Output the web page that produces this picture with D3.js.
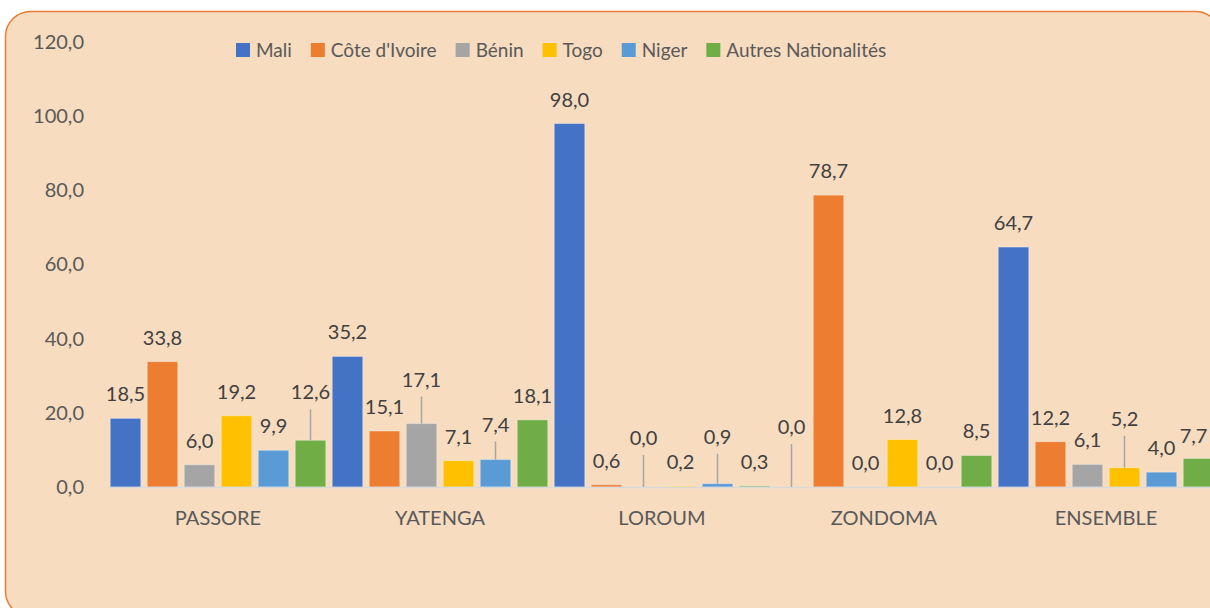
<!DOCTYPE html>
<html>
<head>
<meta charset="utf-8">
<script src="https://cdn.jsdelivr.net/npm/d3@7"></script>
<style>
  html, body { margin: 0; padding: 0; background: #fff; }
  svg { display: block; font-family: Lato, "DejaVu Sans", sans-serif; }
</style>
</head>
<body>
<svg id="chart" width="1210" height="608"></svg>
<script>
// data
var categories = ['PASSORE', 'YATENGA', 'LOROUM', 'ZONDOMA', 'ENSEMBLE'];
var seriesNames = ['Mali', "Côte d'Ivoire", 'Bénin', 'Togo', 'Niger', 'Autres Nationalités'];
var mali       = [18.5, 35.2, 98.0,  0.0, 64.7];
var coteIvoire = [33.8, 15.1,  0.6, 78.7, 12.2];
var benin      = [ 6.0, 17.1,  0.0,  0.0,  6.1];
var togo       = [19.2,  7.1,  0.2, 12.8,  5.2];
var niger      = [ 9.9,  7.4,  0.9,  0.0,  4.0];
var autres     = [12.6, 18.1,  0.3,  8.5,  7.7];
var yTicks = [0, 20, 40, 60, 80, 100, 120];

var seriesValues = [mali, coteIvoire, benin, togo, niger, autres];
var seriesColors = ['#4472c4', '#ed7d31', '#a5a5a5', '#ffc000', '#5b9bd5', '#70ad47'];

// labels that excel moved off their default spot (with a leader line)
var labelMoves = {
  'PASSORE|Autres Nationalités': { dx: 0, dy: -24, leader: true },
  'YATENGA|Bénin': { dx: 0, dy: -20, leader: true },
  'YATENGA|Niger': { dx: 0, dy: -11, leader: true },
  'LOROUM|Bénin': { dx: 0, dy: -25, leader: true },
  'LOROUM|Niger': { dx: 0, dy: -23, leader: true },
  'ZONDOMA|Mali': { dx: 0, dy: -36, leader: true },
  'ENSEMBLE|Togo': { dx: 0, dy: -25, leader: true },
  'ENSEMBLE|Autres Nationalités': { dx: -5, dy: 2, leader: false }
};

var textColor = '#595959';
var fmt = function(v){ return d3.format('.1f')(v).replace('.', ','); };

var svg = d3.select('#chart');

// chart frame
svg.append('rect')
  .attr('x', 5.5).attr('y', 11.5)
  .attr('width', 1215).attr('height', 605)
  .attr('rx', 25).attr('ry', 25)
  .attr('fill', '#f7dcc0')
  .attr('stroke', '#ed7d31')
  .attr('stroke-width', 1.5);

var x0 = d3.scaleBand().domain(categories).range([107, 1217]);
var x1 = d3.scaleBand().domain(seriesNames).range([0, x0.bandwidth()])
  .paddingInner(0.175).paddingOuter(0.0875);
var y = d3.scaleLinear().domain([0, 120]).range([487, 42]);

// y axis (no gridlines)
var yAxis = svg.append('g')
  .attr('transform', 'translate(107,0)')
  .call(d3.axisLeft(y).tickValues(yTicks).tickSize(0).tickPadding(23).tickFormat(fmt));
yAxis.select('.domain').remove();
yAxis.selectAll('text')
  .attr('fill', textColor)
  .style('font-size', '20px')
  .style('font-family', 'Lato, sans-serif');

// bars
var rows = [];
categories.forEach(function(c, i){
  seriesNames.forEach(function(s, j){
    rows.push({ cat: c, series: s, value: seriesValues[j][i], color: seriesColors[j] });
  });
});

svg.append('g').selectAll('rect')
  .data(rows)
  .join('rect')
  .attr('x', function(d){ return x0(d.cat) + x1(d.series); })
  .attr('y', function(d){ return y(d.value); })
  .attr('width', x1.bandwidth())
  .attr('height', function(d){ return y(0) - y(d.value); })
  .attr('fill', function(d){ return d.color; })
  .attr('stroke', 'rgba(255,255,255,0.35)')
  .attr('stroke-width', 1);

// x axis
var xAxis = svg.append('g')
  .attr('transform', 'translate(0,487)')
  .call(d3.axisBottom(x0).tickSize(0).tickSizeOuter(0).tickPadding(24));
xAxis.select('.domain').attr('stroke', '#d9d9d9').attr('stroke-width', 1.5);
xAxis.selectAll('text')
  .attr('fill', textColor)
  .style('font-size', '20px')
  .style('font-family', 'Lato, sans-serif');

// data labels + leader lines
var labels = svg.append('g');
rows.forEach(function(d){
  var mv = labelMoves[d.cat + '|' + d.series] || { dx: 0, dy: 0, leader: false };
  var cx = x0(d.cat) + x1(d.series) + x1.bandwidth() / 2;
  var top = y(d.value);
  var cy = top - 24 + mv.dy;
  if (mv.leader) {
    labels.append('line')
      .attr('x1', cx).attr('x2', cx)
      .attr('y1', top).attr('y2', cy + 17)
      .attr('stroke', '#a6a6a6')
      .attr('stroke-width', 1.5);
  }
  labels.append('text')
    .attr('x', cx + mv.dx)
    .attr('y', cy)
    .attr('dy', '0.35em')
    .attr('text-anchor', 'middle')
    .attr('fill', '#404040')
    .style('font-size', '20px')
    .text(fmt(d.value));
});

// legend
var legend = svg.append('g');
var lx = 236;
seriesNames.forEach(function(s, j){
  legend.append('rect')
    .attr('x', lx).attr('y', 43)
    .attr('width', 14).attr('height', 14)
    .attr('fill', seriesColors[j]);
  var t = legend.append('text')
    .attr('x', lx + 20).attr('y', 50)
    .attr('dy', '0.35em')
    .attr('fill', textColor)
    .style('font-size', '19px')
    .text(s);
  lx += 20 + t.node().getComputedTextLength() + 19;
});
</script>
</body>
</html>
